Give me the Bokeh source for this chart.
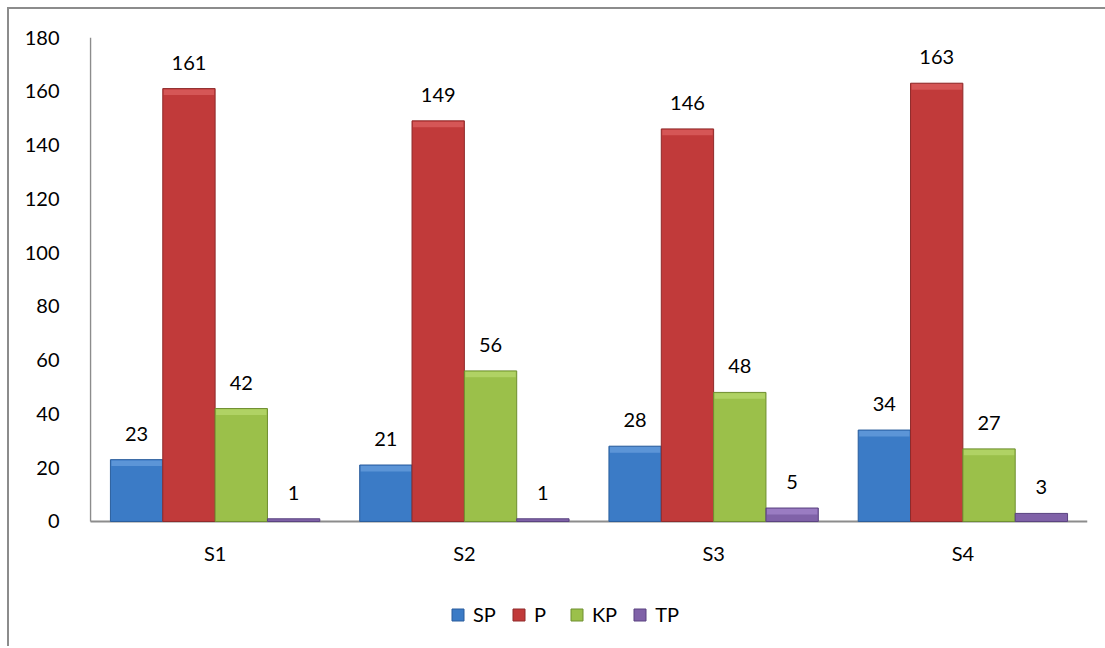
from bokeh.plotting import figure
from bokeh.models import ColumnDataSource, Legend, LegendItem, FixedTicker, Range1d, LabelSet
from bokeh.core.properties import value
from bokeh.embed import file_html
from bokeh.resources import INLINE

categories = ["S1", "S2", "S3", "S4"]
series = ["SP", "P", "KP", "TP"]
SP = [23, 21, 28, 34]
P = [161, 149, 146, 163]
KP = [42, 56, 48, 27]
TP = [1, 1, 5, 3]
y_ticks = [0, 20, 40, 60, 80, 100, 120, 140, 160, 180]

values = {"SP": SP, "P": P, "KP": KP, "TP": TP}
fills = {"SP": "#3b7bc6", "P": "#c13a3a", "KP": "#9bc04a", "TP": "#8062a8"}
lines = {"SP": "#2a5d9c", "P": "#8f2a2a", "KP": "#6f8f30", "TP": "#5a4380"}
tops = {"SP": "#6ea3e0", "P": "#e06565", "KP": "#bcdc72", "TP": "#a88ad0"}
offsets = [-0.315, -0.105, 0.105, 0.315]
bar_w = 0.21
FONT = "Lato"
FS = "20px"
Y_MIN = -46.5

p = figure(width=1098, height=639, output_backend="svg", toolbar_location=None,
           x_range=Range1d(-0.004, 4), y_range=Range1d(Y_MIN, 180),
           min_border_left=80, min_border_top=28, min_border_right=20, min_border_bottom=2,
           margin=(7, 0, 0, 7))
p.styles = {"border-left": "2px solid #8c8c8c", "border-top": "2px solid #8c8c8c"}
p.outline_line_color = None
p.grid.visible = False
p.xaxis.visible = False

# axis lines
p.segment(x0=[0], y0=[0], x1=[0], y1=[180], line_color="#8c8c8c", line_width=1.5)
p.segment(x0=[0], y0=[0], x1=[4], y1=[0], line_color="#8c8c8c", line_width=2)

renderers = {}
for i, s in enumerate(series):
    xs = [j + 0.5 + offsets[i] for j in range(len(categories))]
    vals = values[s]
    src = ColumnDataSource(dict(x=xs, top=vals, lbl=[str(v) for v in vals]))
    r = p.vbar(x="x", top="top", bottom=0, width=bar_w, source=src,
               fill_color=fills[s], line_color=lines[s], line_width=1)
    renderers[s] = r
    hx = [x for x, v in zip(xs, vals) if v >= 4]
    hv = [v for v in vals if v >= 4]
    if hx:
        p.quad(left=[x - bar_w / 2 + 0.004 for x in hx], right=[x + bar_w / 2 - 0.004 for x in hx],
               top=[v - 0.3 for v in hv], bottom=[v - 2.4 for v in hv],
               fill_color=tops[s], fill_alpha=0.65, line_color=None)
    labels = LabelSet(x="x", y="top", text="lbl", source=src, text_align="center",
                      text_baseline="middle", y_offset=26, text_font=value(FONT),
                      text_font_size=value(FS), text_color="#000000")
    p.add_layout(labels)

# category labels
cat_src = ColumnDataSource(dict(x=[j + 0.5 for j in range(len(categories))],
                                y=[0] * len(categories), t=categories))
p.add_layout(LabelSet(x="x", y="y", text="t", source=cat_src, text_align="center",
                      text_baseline="middle", y_offset=-32, text_font=value(FONT),
                      text_font_size=value(FS), text_color="#000000"))

p.yaxis.ticker = FixedTicker(ticks=y_ticks)
p.yaxis.major_tick_line_color = None
p.yaxis.minor_tick_line_color = None
p.yaxis.axis_line_color = None
p.yaxis.major_label_standoff = 24
p.yaxis.major_label_text_font = FONT
p.yaxis.major_label_text_font_size = FS
p.yaxis.major_label_text_color = "#000000"

legend = Legend(items=[LegendItem(label=s, renderers=[renderers[s]]) for s in series],
                orientation="horizontal", location=(361, 20),
                glyph_width=15, glyph_height=15, label_standoff=8, spacing=15,
                padding=0, margin=0, border_line_color=None, background_fill_alpha=0,
                label_text_font=FONT, label_text_font_size=FS, label_text_color="#000000")
p.add_layout(legend, "center")

open("out.html", "w").write(file_html(p, INLINE))
